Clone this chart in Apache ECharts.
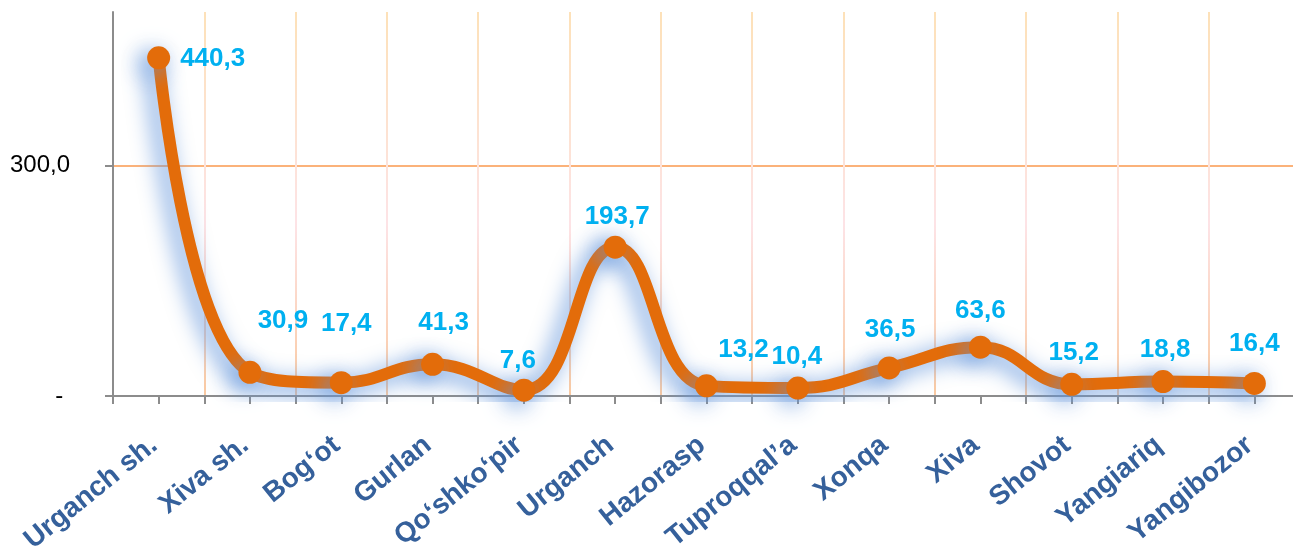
<!DOCTYPE html>
<html>
<head>
<meta charset="utf-8">
<script src="https://cdn.jsdelivr.net/npm/echarts@6/dist/echarts.min.js"></script>
<style>
html,body{margin:0;padding:0;background:#fff;}
#chart{width:1293px;height:546px;}
</style>
</head>
<body>
<div id="chart"></div>
<script>
const categories = ["Urganch sh.", "Xiva sh.", "Bog\u2018ot", "Gurlan", "Qo\u2018shko\u2018pir", "Urganch", "Hazorasp", "Tuproqqal\u2019a", "Xonqa", "Xiva", "Shovot", "Yangiariq", "Yangibozor"];
const values = [440.3, 30.9, 17.4, 41.3, 7.6, 193.7, 13.2, 10.4, 36.5, 63.6, 15.2, 18.8, 16.4];
const yTickValues = [0, 300];

// label placement tweaks (style only)
const labelOffsets = [[0,0],[33,-15],[5,-22],[11,-5],[-6,7],[2,6],[37,0],[-1,5],[1,-2],[0,0],[2,5],[2,5],[0,-3]];

const fmt = v => v.toFixed(1).replace('.', ',');

const seriesData = values.map((v, i) => {
  const item = { value: v, label: { offset: labelOffsets[i] } };
  if (i === 0) item.label = { position: 'right', distance: 10, offset: [0, 1] };
  return item;
});

const chart = echarts.init(document.getElementById('chart'), null, { renderer: 'canvas' });
chart.setOption({
  backgroundColor: '#ffffff',
  animation: false,
  grid: { left: 113, width: 1187, top: 12, height: 384, containLabel: false, outerBoundsMode: 'none' },
  xAxis: [{
    type: 'category',
    data: categories,
    boundaryGap: true,
    axisLine: { show: true, lineStyle: { color: '#8c8c8c', width: 2 } },
    axisTick: { show: true, length: 8, lineStyle: { color: '#8c8c8c', width: 2 } },
    axisLabel: {
      interval: 0, rotate: 39, margin: 42,
      color: '#35609B', fontFamily: 'Liberation Sans, Arial, sans-serif',
      fontWeight: 'bold', fontSize: 28, padding: [0, 6, 0, 0]
    },
    splitLine: {
      show: true,
      lineStyle: {
        width: 2,
        color: { type: 'linear', x: 0, y: 0, x2: 0, y2: 1, colorStops: [
          { offset: 0, color: '#FDE1B8' }, { offset: 0.55, color: '#FDE3E6' }, { offset: 1, color: '#FAC9A0' }
        ] }
      }
    }
  }, {
    type: 'category',
    data: categories,
    boundaryGap: true,
    position: 'bottom',
    axisLine: { show: false },
    axisTick: { show: true, alignWithLabel: true, length: 8, lineStyle: { color: '#8c8c8c', width: 2 } },
    axisLabel: { show: false },
    splitLine: { show: false }
  }],
  yAxis: {
    type: 'value',
    min: 0, max: 500, interval: 300,
    axisLine: { show: true, lineStyle: { color: '#8c8c8c', width: 2 } },
    axisTick: { show: true, length: 8, customValues: yTickValues, lineStyle: { color: '#8c8c8c', width: 2 } },
    axisLabel: {
      customValues: yTickValues,
      margin: 43, color: '#000', fontSize: 24,
      fontFamily: 'Liberation Sans, Arial, sans-serif',
      formatter: v => v === 0 ? '- ' : fmt(v)
    },
    splitLine: { show: true, lineStyle: { color: '#FBB27A', width: 2 } }
  },
  series: [{
    type: 'line',
    xAxisIndex: 0,
    data: seriesData,
    smooth: 0.45,
    symbol: 'circle',
    symbolSize: 23,
    lineStyle: {
      color: '#E36C0A', width: 12,
      shadowColor: 'rgba(100,150,220,1)', shadowBlur: 22, shadowOffsetX: -7, shadowOffsetY: 5
    },
    itemStyle: {
      color: '#E36C0A',
      shadowColor: 'rgba(100,150,220,0.9)', shadowBlur: 22, shadowOffsetX: -7, shadowOffsetY: 5
    },
    label: {
      show: true, position: 'top', distance: 12,
      color: '#00B0F0', fontWeight: 'bold', fontSize: 26,
      fontFamily: 'Liberation Sans, Arial, sans-serif',
      formatter: p => fmt(p.value)
    },
    z: 5
  }]
});
</script>
</body>
</html>
